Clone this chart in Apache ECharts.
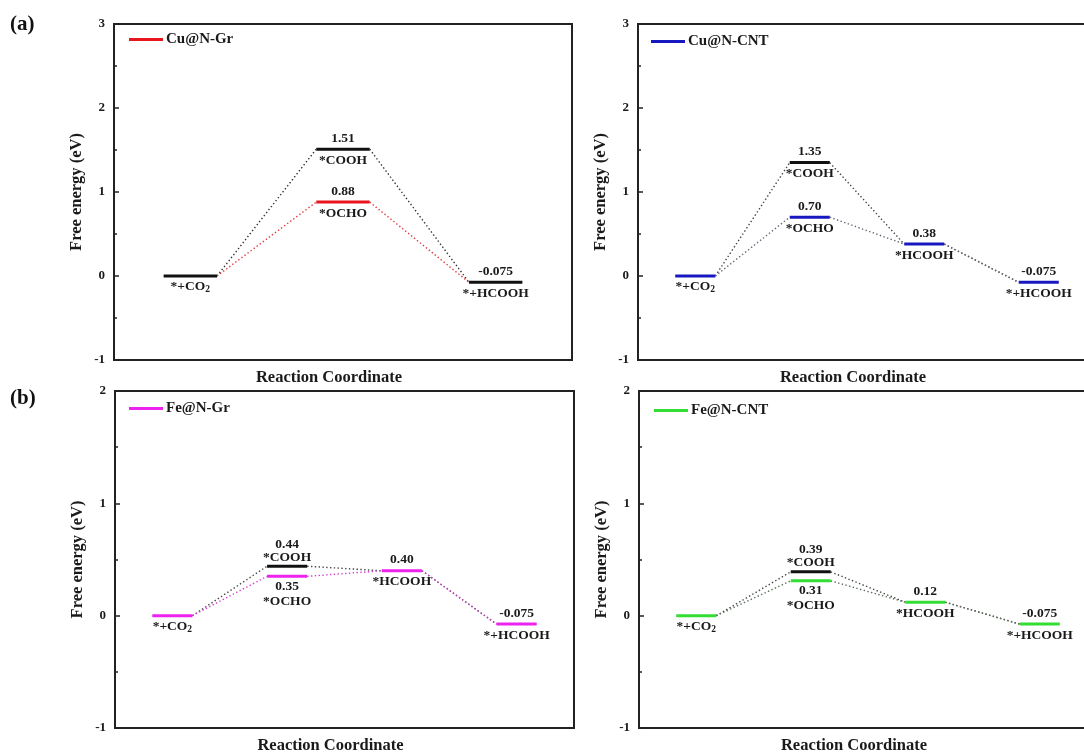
<!DOCTYPE html>
<html>
<head>
<meta charset="utf-8">
<script src="https://cdn.jsdelivr.net/npm/echarts@6/dist/echarts.min.js"></script>
<style>
  html, body { margin: 0; padding: 0; background: #ffffff; }
  #chart { width: 1084px; height: 752px; }
</style>
</head>
<body>
<div id="chart"></div>
<script>
// Free-energy diagrams for CO2 reduction to HCOOH on single-atom catalysts.
// Each panel has two pathways: via *COOH and via *OCHO.

const threeStepCoohNames = ['*+CO2', '*COOH', '*+HCOOH'];
const threeStepOchoNames = ['*+CO2', '*OCHO', '*+HCOOH'];
const fourStepCoohNames = ['*+CO2', '*COOH', '*HCOOH', '*+HCOOH'];
const fourStepOchoNames = ['*+CO2', '*OCHO', '*HCOOH', '*+HCOOH'];

// Cu@N-Gr (eV)
const cuGrCooh = [0, 1.51, -0.075];
const cuGrOcho = [0, 0.88, -0.075];
// Cu@N-CNT (eV)
const cuCntCooh = [0, 1.35, 0.38, -0.075];
const cuCntOcho = [0, 0.70, 0.38, -0.075];
// Fe@N-Gr (eV)
const feGrCooh = [0, 0.44, 0.40, -0.075];
const feGrOcho = [0, 0.35, 0.40, -0.075];
// Fe@N-CNT (eV)
const feCntCooh = [0, 0.39, 0.12, -0.075];
const feCntOcho = [0, 0.31, 0.12, -0.075];

const yTicksTop = [-1, 0, 1, 2, 3];
const yTicksBottom = [-1, 0, 1, 2];

const panelTags = ['(a)', '(b)'];

const FONT = '"Liberation Serif", "Times New Roman", serif';
const INK = '#1a1a1a';
const LEVEL_BLACK = '#111111';
const HALF = 0.175;          // half width of an energy level, in step units

const panels = [
  { name: 'Cu@N-Gr', cooh: cuGrCooh, ocho: cuGrOcho,
    coohNames: threeStepCoohNames, ochoNames: threeStepOchoNames,
    yTicks: yTicksTop, color: '#e8161c', shared: LEVEL_BLACK,
    coohLink: '#333333', ochoLink: '#e0383c',
    grid: { left: 114, top: 24, width: 458, height: 336 }, legendPos: { left: 129, top: 32 } },
  { name: 'Cu@N-CNT', cooh: cuCntCooh, ocho: cuCntOcho,
    coohNames: fourStepCoohNames, ochoNames: fourStepOchoNames,
    yTicks: yTicksTop, color: '#1818c0', shared: '#1818c0',
    coohLink: '#444444', ochoLink: '#666677',
    grid: { left: 638, top: 24, width: 458, height: 336 }, legendPos: { left: 651, top: 34 } },
  { name: 'Fe@N-Gr', cooh: feGrCooh, ocho: feGrOcho,
    coohNames: fourStepCoohNames, ochoNames: fourStepOchoNames,
    yTicks: yTicksBottom, color: '#ee22ee', shared: '#ee22ee',
    coohLink: '#444444', ochoLink: '#d040d0',
    grid: { left: 115, top: 391, width: 459, height: 337 }, legendPos: { left: 129, top: 401 } },
  { name: 'Fe@N-CNT', cooh: feCntCooh, ocho: feCntOcho,
    coohNames: fourStepCoohNames, ochoNames: fourStepOchoNames,
    yTicks: yTicksBottom, color: '#33dd33', shared: '#33dd33',
    coohLink: '#444444', ochoLink: '#5a6e5a',
    grid: { left: 639, top: 391, width: 458, height: 337 }, legendPos: { left: 654, top: 403 } }
];

function fmtValue(v) {
  const s = String(v);
  const dec = (s.split('.')[1] || '').length;
  return dec >= 2 ? s : v.toFixed(2);
}

function richName(n) {
  return n.replace('CO2', 'CO{sub|2}');
}

const textBase = { fill: INK, fontFamily: FONT, fontWeight: 'bold', fontSize: 13.5,
  align: 'center', verticalAlign: 'middle', lineHeight: 16 };
const richStyles = {
  sub: { fill: INK, color: INK, fontFamily: FONT, fontWeight: 'bold', fontSize: 9.5,
    lineHeight: 8, verticalAlign: 'bottom' }
};

function makeText(x, y, text) {
  return { type: 'text', x: x, y: y,
    style: Object.assign({}, textBase, { text: text, rich: richStyles }) };
}

function buildLevels(p) {
  const data = [], meta = [];
  p.cooh.forEach(function (c, i) {
    const o = p.ocho[i];
    if (c === o) {
      data.push([i, c]);
      meta.push({ color: p.shared, name: p.coohNames[i], showValue: i > 0, mode: 'split' });
    } else {
      const close = Math.abs(c - o) < 0.2;
      data.push([i, c]);
      meta.push({ color: LEVEL_BLACK, name: p.coohNames[i], showValue: true, mode: close ? 'above' : 'split' });
      data.push([i, o]);
      meta.push({ color: p.color, name: p.ochoNames[i], showValue: true, mode: close ? 'below' : 'split' });
    }
  });
  return { data: data, meta: meta };
}

function levelRenderer(meta) {
  return function (params, api) {
    const x = api.value(0), v = api.value(1);
    const m = meta[params.dataIndex];
    const a = api.coord([x - HALF, v]);
    const b = api.coord([x + HALF, v]);
    const cx = (a[0] + b[0]) / 2, y = a[1];
    const children = [{
      type: 'line', shape: { x1: a[0], y1: y, x2: b[0], y2: y },
      style: { stroke: m.color, lineWidth: 3 }
    }];
    const val = m.showValue ? fmtValue(v) : null;
    if (m.mode === 'above') {
      if (val) children.push(makeText(cx, y - 22, val));
      children.push(makeText(cx, y - 9, richName(m.name)));
    } else if (m.mode === 'below') {
      if (val) children.push(makeText(cx, y + 10, val));
      children.push(makeText(cx, y + 25, richName(m.name)));
    } else {
      if (val) children.push(makeText(cx, y - 11, val));
      children.push(makeText(cx, y + 11, richName(m.name)));
    }
    return { type: 'group', children: children };
  };
}

function linkData(path) {
  const out = [];
  for (let i = 0; i < path.length - 1; i++) out.push([i, path[i], i + 1, path[i + 1]]);
  return out;
}

function linkRenderer(color) {
  return function (params, api) {
    const a = api.coord([api.value(0) + HALF, api.value(1)]);
    const b = api.coord([api.value(2) - HALF, api.value(3)]);
    return {
      type: 'line', shape: { x1: a[0], y1: a[1], x2: b[0], y2: b[1] },
      style: { stroke: color, lineWidth: 1.4, lineDash: [1.4, 2.4] }
    };
  };
}

const grids = [], xAxes = [], yAxes = [], series = [], legends = [];

panels.forEach(function (p, i) {
  grids.push(Object.assign({ show: true, borderColor: '#222', borderWidth: 2,
    containLabel: false, outerBoundsMode: 'none' }, p.grid));

  xAxes.push({
    type: 'value', gridIndex: i, min: -0.5, max: p.cooh.length - 0.5,
    axisLine: { show: true, onZero: false, lineStyle: { color: '#222', width: 2 } },
    axisTick: { show: false }, axisLabel: { show: false }, splitLine: { show: false },
    name: 'Reaction Coordinate', nameLocation: 'middle', nameGap: 9,
    nameTextStyle: { color: INK, fontFamily: FONT, fontWeight: 'bold', fontSize: 16.5, padding: [0, 28, 0, 0] }
  });

  yAxes.push({
    type: 'value', gridIndex: i,
    min: p.yTicks[0], max: p.yTicks[p.yTicks.length - 1], interval: 1,
    axisLine: { show: true, onZero: false, lineStyle: { color: '#222', width: 2 } },
    axisTick: { show: true, inside: true, length: 5, lineStyle: { color: '#222', width: 1.5 } },
    minorTick: { show: true, splitNumber: 2, length: 3, lineStyle: { color: '#222', width: 1.5 } },
    splitLine: { show: false },
    axisLabel: { color: INK, fontFamily: FONT, fontWeight: 'bold', fontSize: 13, margin: 9 },
    name: 'Free energy (eV)', nameLocation: 'middle', nameGap: 29,
    nameTextStyle: { color: INK, fontFamily: FONT, fontWeight: 'bold', fontSize: 16.5 }
  });

  series.push({
    type: 'custom', name: 'links-cooh-' + i, xAxisIndex: i, yAxisIndex: i, z: 1, silent: true,
    encode: { x: [0, 2], y: [1, 3] },
    data: linkData(p.cooh), renderItem: linkRenderer(p.coohLink)
  });
  series.push({
    type: 'custom', name: 'links-ocho-' + i, xAxisIndex: i, yAxisIndex: i, z: 2, silent: true,
    encode: { x: [0, 2], y: [1, 3] },
    data: linkData(p.ocho), renderItem: linkRenderer(p.ochoLink)
  });

  const lv = buildLevels(p);
  series.push({
    type: 'custom', name: p.name, xAxisIndex: i, yAxisIndex: i, z: 3, silent: true,
    itemStyle: { color: p.color },
    encode: { x: 0, y: 1 },
    data: lv.data, renderItem: levelRenderer(lv.meta)
  });

  legends.push({
    data: [p.name], left: p.legendPos.left, top: p.legendPos.top, padding: 0,
    icon: 'rect', itemWidth: 34, itemHeight: 3, itemGap: 4, selectedMode: false,
    textStyle: { color: INK, fontFamily: FONT, fontWeight: 'bold', fontSize: 15, padding: [0, 0, 0, -2] }
  });
});

const chart = echarts.init(document.getElementById('chart'), null, { renderer: 'canvas' });
chart.setOption({
  backgroundColor: '#ffffff',
  animation: false,
  grid: grids, xAxis: xAxes, yAxis: yAxes, series: series, legend: legends,
  graphic: [
    { type: 'text', left: 10, top: 14, style: { text: panelTags[0], fill: '#111', font: 'bold 21px ' + FONT } },
    { type: 'text', left: 10, top: 388, style: { text: panelTags[1], fill: '#111', font: 'bold 21px ' + FONT } }
  ]
});
</script>
</body>
</html>
